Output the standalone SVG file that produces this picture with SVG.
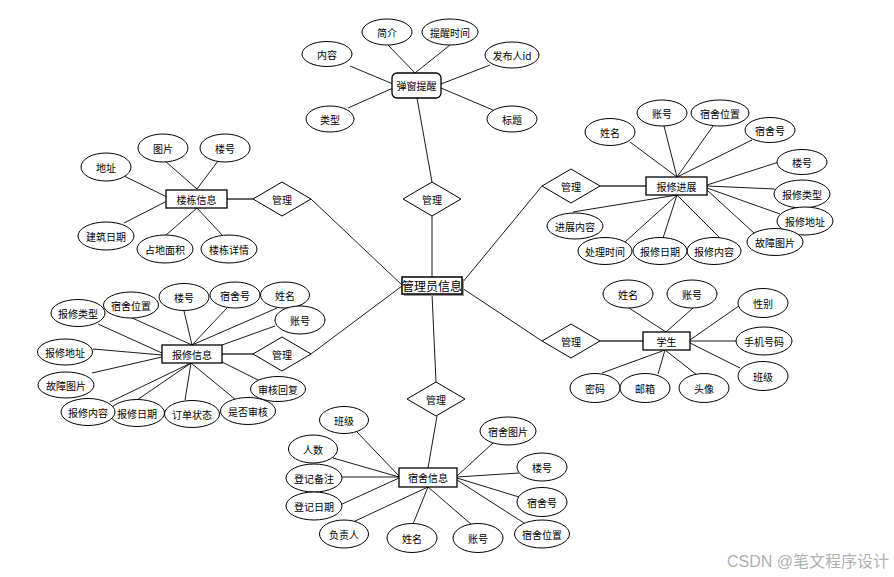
<svg xmlns="http://www.w3.org/2000/svg" width="894" height="577" viewBox="0 0 894 577">
<style>
.e{fill:#fff;stroke:#000;stroke-width:1}
.r{fill:#fff;stroke:#000;stroke-width:1.3}
.d{fill:#fff;stroke:#000;stroke-width:1}
.t{font-family:"Noto Sans CJK SC","Liberation Sans",sans-serif;font-size:10px;fill:#000;text-anchor:middle;dominant-baseline:central}
.c line{stroke:#000;stroke-width:0.9}
.c .g{stroke:#666;stroke-width:2}
</style>
<rect width="894" height="577" fill="#fff"/>
<g class="c" id="connectors">
<line x1="350" y1="66" x2="393" y2="84"/>
<line x1="388" y1="45" x2="415" y2="73"/>
<line x1="450" y1="45" x2="415" y2="73"/>
<line x1="490" y1="65" x2="441" y2="84"/>
<line x1="348" y1="108" x2="393" y2="88"/>
<line x1="493" y1="110" x2="441" y2="88"/>
<line x1="417" y1="98" x2="432" y2="182"/>
<line x1="432" y1="216" x2="432" y2="277"/>
<line x1="311" y1="199" x2="402" y2="285"/>
<line x1="311" y1="354" x2="402" y2="286"/>
<line x1="432" y1="294" x2="436" y2="382"/>
<line x1="462" y1="283" x2="542" y2="186"/>
<line x1="462" y1="288" x2="542" y2="341"/>
<line class="g" x1="227" y1="199" x2="253" y2="199"/>
<line x1="124" y1="176" x2="167" y2="197"/>
<line x1="165" y1="161" x2="197" y2="189"/>
<line x1="218" y1="161" x2="197" y2="189"/>
<line x1="124" y1="223" x2="167" y2="201"/>
<line x1="166" y1="235" x2="197" y2="208"/>
<line x1="223" y1="236" x2="197" y2="208"/>
<line class="g" x1="600" y1="186" x2="646" y2="186"/>
<line x1="630" y1="142" x2="677" y2="177"/>
<line x1="664" y1="126" x2="677" y2="177"/>
<line x1="713" y1="126" x2="677" y2="177"/>
<line x1="752" y1="140" x2="677" y2="177"/>
<line x1="779" y1="162" x2="707" y2="185"/>
<line x1="775" y1="189" x2="707" y2="186"/>
<line x1="780" y1="214" x2="707" y2="188"/>
<line x1="754" y1="233" x2="707" y2="190"/>
<line x1="573" y1="212" x2="677" y2="195"/>
<line x1="625" y1="242" x2="677" y2="195"/>
<line x1="663" y1="238" x2="677" y2="195"/>
<line x1="720" y1="238" x2="677" y2="195"/>
<line class="g" x1="600" y1="341" x2="643" y2="341"/>
<line x1="629" y1="308" x2="666" y2="332"/>
<line x1="693" y1="308" x2="666" y2="332"/>
<line x1="743" y1="303" x2="690" y2="340"/>
<line x1="690" y1="341" x2="736" y2="341"/>
<line x1="740" y1="368" x2="690" y2="343"/>
<line x1="602" y1="373" x2="665" y2="350"/>
<line x1="658" y1="374" x2="665" y2="350"/>
<line x1="697" y1="375" x2="665" y2="350"/>
<line class="g" x1="222" y1="354" x2="253" y2="354"/>
<line x1="98" y1="324" x2="162" y2="353"/>
<line x1="130" y1="317" x2="192" y2="345"/>
<line x1="184" y1="311" x2="192" y2="345"/>
<line x1="227" y1="308" x2="192" y2="345"/>
<line x1="277" y1="308" x2="192" y2="345"/>
<line x1="275" y1="326" x2="222" y2="345"/>
<line x1="93" y1="349" x2="162" y2="355"/>
<line x1="92" y1="373" x2="162" y2="357"/>
<line x1="110" y1="402" x2="191" y2="363"/>
<line x1="137" y1="400" x2="191" y2="363"/>
<line x1="185" y1="400" x2="191" y2="363"/>
<line x1="236" y1="400" x2="191" y2="363"/>
<line x1="260" y1="381" x2="222" y2="362"/>
<line x1="437" y1="416" x2="428" y2="468"/>
<line x1="357" y1="432" x2="399" y2="476"/>
<line x1="333" y1="458" x2="399" y2="477"/>
<line x1="342" y1="477" x2="399" y2="477"/>
<line x1="340" y1="505" x2="399" y2="478"/>
<line x1="353" y1="522" x2="428" y2="487"/>
<line x1="413" y1="524" x2="428" y2="487"/>
<line x1="472" y1="525" x2="428" y2="487"/>
<line x1="493" y1="443" x2="457" y2="476"/>
<line x1="519" y1="473" x2="457" y2="477"/>
<line x1="519" y1="497" x2="457" y2="478"/>
<line x1="524" y1="523" x2="457" y2="480"/>
</g>

<g id="tanchuang">
<rect class="r" x="392" y="73" width="49" height="25" rx="5"/>
<text class="t" x="416.5" y="85.5">弹窗提醒</text>
</g>
<g id="tc-neirong"><ellipse class="e" cx="327" cy="54" rx="25" ry="12.5"/><text class="t" x="327" y="54">内容</text></g>
<g id="tc-jianjie"><ellipse class="e" cx="387" cy="32" rx="25" ry="13"/><text class="t" x="387" y="32">简介</text></g>
<g id="tc-time"><ellipse class="e" cx="450" cy="32" rx="28" ry="13"/><text class="t" x="450" y="32">提醒时间</text></g>
<g id="tc-fbr"><ellipse class="e" cx="512" cy="55" rx="27" ry="13"/><text class="t" x="512" y="55">发布人id</text></g>
<g id="tc-leixing"><ellipse class="e" cx="330" cy="119" rx="24" ry="13"/><text class="t" x="330" y="119">类型</text></g>
<g id="tc-biaoti"><ellipse class="e" cx="512" cy="119" rx="25" ry="13"/><text class="t" x="512" y="119">标题</text></g>

<g id="admin">
<rect x="404" y="279" width="60" height="17" fill="#999"/>
<rect x="402" y="277" width="60" height="17" fill="#fff" stroke="#000" stroke-width="1.5"/>
<text class="t" x="432" y="285.5" style="font-size:12px">管理员信息</text>
</g>

<g id="rel-top"><polygon class="d" points="403,199 432,182 461,199 432,216"/><text class="t" x="432" y="199">管理</text></g>
<g id="rel-ul"><polygon class="d" points="253,199 282,182 311,199 282,216"/><text class="t" x="282" y="199">管理</text></g>
<g id="rel-ll"><polygon class="d" points="253,354 282,337 311,354 282,371"/><text class="t" x="282" y="354">管理</text></g>
<g id="rel-bot"><polygon class="d" points="407,399 436,382 465,399 436,416"/><text class="t" x="436" y="399">管理</text></g>
<g id="rel-ur"><polygon class="d" points="542,186 571,169 600,186 571,203"/><text class="t" x="571" y="186">管理</text></g>
<g id="rel-lr"><polygon class="d" points="542,341 571,324 600,341 571,358"/><text class="t" x="571" y="341">管理</text></g>

<g id="loudong"><rect class="r" x="166" y="190" width="61" height="18"/><text class="t" x="196.5" y="199">楼栋信息</text></g>
<g id="ld-dizhi"><ellipse class="e" cx="106" cy="167" rx="25" ry="14"/><text class="t" x="106" y="167">地址</text></g>
<g id="ld-tupian"><ellipse class="e" cx="163" cy="148" rx="25" ry="14"/><text class="t" x="163" y="148">图片</text></g>
<g id="ld-louhao"><ellipse class="e" cx="225" cy="148" rx="25" ry="14"/><text class="t" x="225" y="148">楼号</text></g>
<g id="ld-jzrq"><ellipse class="e" cx="106" cy="236" rx="28" ry="14"/><text class="t" x="106" y="236">建筑日期</text></g>
<g id="ld-zdmj"><ellipse class="e" cx="165" cy="249" rx="28" ry="14"/><text class="t" x="165" y="249">占地面积</text></g>
<g id="ld-ldxq"><ellipse class="e" cx="229" cy="249" rx="28" ry="14"/><text class="t" x="229" y="249">楼栋详情</text></g>

<g id="jinzhan"><rect class="r" x="646" y="177" width="61" height="18"/><text class="t" x="676.5" y="186">报修进展</text></g>
<g id="jz-xingming"><ellipse class="e" cx="610" cy="132" rx="25" ry="13.5"/><text class="t" x="610" y="132">姓名</text></g>
<g id="jz-zhanghao"><ellipse class="e" cx="662" cy="113" rx="25" ry="13"/><text class="t" x="662" y="113">账号</text></g>
<g id="jz-sswz"><ellipse class="e" cx="720" cy="113" rx="29" ry="13"/><text class="t" x="720" y="113">宿舍位置</text></g>
<g id="jz-ssh"><ellipse class="e" cx="770" cy="130" rx="25" ry="12.5"/><text class="t" x="770" y="130">宿舍号</text></g>
<g id="jz-louhao"><ellipse class="e" cx="802" cy="162" rx="25" ry="12.5"/><text class="t" x="802" y="162">楼号</text></g>
<g id="jz-bxlx"><ellipse class="e" cx="802" cy="194" rx="28" ry="14"/><text class="t" x="802" y="194">报修类型</text></g>
<g id="jz-bxdz"><ellipse class="e" cx="805" cy="221" rx="28" ry="14"/><text class="t" x="805" y="221">报修地址</text></g>
<g id="jz-gztp"><ellipse class="e" cx="775" cy="242" rx="28" ry="13.5"/><text class="t" x="775" y="242">故障图片</text></g>
<g id="jz-bxnr"><ellipse class="e" cx="714" cy="251" rx="27" ry="13.5"/><text class="t" x="714" y="251">报修内容</text></g>
<g id="jz-bxrq"><ellipse class="e" cx="660" cy="251" rx="27" ry="13.5"/><text class="t" x="660" y="251">报修日期</text></g>
<g id="jz-clsj"><ellipse class="e" cx="605" cy="251" rx="27" ry="13.5"/><text class="t" x="605" y="251">处理时间</text></g>
<g id="jz-jznr"><ellipse class="e" cx="575" cy="226" rx="28" ry="13"/><text class="t" x="575" y="226">进展内容</text></g>

<g id="xuesheng"><rect class="r" x="643" y="332" width="47" height="18"/><text class="t" x="666.5" y="341">学生</text></g>
<g id="xs-xingming"><ellipse class="e" cx="628" cy="294" rx="25" ry="14"/><text class="t" x="628" y="294">姓名</text></g>
<g id="xs-zhanghao"><ellipse class="e" cx="692" cy="294" rx="25" ry="14"/><text class="t" x="692" y="294">账号</text></g>
<g id="xs-xingbie"><ellipse class="e" cx="763" cy="303" rx="25" ry="14.5"/><text class="t" x="763" y="303">性别</text></g>
<g id="xs-sjhm"><ellipse class="e" cx="764" cy="341" rx="28" ry="14"/><text class="t" x="764" y="341">手机号码</text></g>
<g id="xs-banji"><ellipse class="e" cx="763" cy="376" rx="25" ry="14.5"/><text class="t" x="763" y="376">班级</text></g>
<g id="xs-mima"><ellipse class="e" cx="595" cy="388" rx="25" ry="14.5"/><text class="t" x="595" y="388">密码</text></g>
<g id="xs-youxiang"><ellipse class="e" cx="645" cy="388" rx="25" ry="14.5"/><text class="t" x="645" y="388">邮箱</text></g>
<g id="xs-touxiang"><ellipse class="e" cx="704" cy="388" rx="25" ry="14.5"/><text class="t" x="704" y="388">头像</text></g>

<g id="baoxiu"><rect class="r" x="162" y="345" width="60" height="18"/><text class="t" x="192" y="354">报修信息</text></g>
<g id="bx-sswz"><ellipse class="e" cx="131" cy="305" rx="27.5" ry="13"/><text class="t" x="131" y="305">宿舍位置</text></g>
<g id="bx-bxlx"><ellipse class="e" cx="78" cy="313" rx="27" ry="13.5"/><text class="t" x="78" y="313">报修类型</text></g>
<g id="bx-louhao"><ellipse class="e" cx="184" cy="297" rx="25" ry="13.5"/><text class="t" x="184" y="297">楼号</text></g>
<g id="bx-ssh"><ellipse class="e" cx="235" cy="295" rx="25" ry="13"/><text class="t" x="235" y="295">宿舍号</text></g>
<g id="bx-xingming"><ellipse class="e" cx="285" cy="295" rx="24.5" ry="13"/><text class="t" x="285" y="295">姓名</text></g>
<g id="bx-zhanghao"><ellipse class="e" cx="300" cy="320" rx="25" ry="14"/><text class="t" x="300" y="320">账号</text></g>
<g id="bx-bxdz"><ellipse class="e" cx="65" cy="352" rx="27.5" ry="13"/><text class="t" x="65" y="352">报修地址</text></g>
<g id="bx-gztp"><ellipse class="e" cx="66" cy="385" rx="28" ry="13"/><text class="t" x="66" y="385">故障图片</text></g>
<g id="bx-shhf"><ellipse class="e" cx="278" cy="389" rx="27.5" ry="12.5"/><text class="t" x="278" y="389">审核回复</text></g>
<g id="bx-sfsh"><ellipse class="e" cx="248" cy="411" rx="27.5" ry="13.5"/><text class="t" x="248" y="411">是否审核</text></g>
<g id="bx-ddzt"><ellipse class="e" cx="192" cy="414" rx="27.5" ry="13.5"/><text class="t" x="192" y="414">订单状态</text></g>
<g id="bx-bxrq"><ellipse class="e" cx="137" cy="413" rx="27.5" ry="13.5"/><text class="t" x="137" y="413">报修日期</text></g>
<g id="bx-bxnr"><ellipse class="e" cx="88" cy="412" rx="27" ry="13.5"/><text class="t" x="88" y="412">报修内容</text></g>

<g id="sushe"><rect class="r" x="399" y="468" width="58" height="19"/><text class="t" x="428" y="477.5">宿舍信息</text></g>
<g id="ss-banji"><ellipse class="e" cx="344" cy="420" rx="24.5" ry="13.5"/><text class="t" x="344" y="420">班级</text></g>
<g id="ss-renshu"><ellipse class="e" cx="313" cy="449" rx="24.5" ry="14"/><text class="t" x="313" y="449">人数</text></g>
<g id="ss-djbz"><ellipse class="e" cx="314" cy="478" rx="28" ry="14"/><text class="t" x="314" y="478">登记备注</text></g>
<g id="ss-djrq"><ellipse class="e" cx="314" cy="506" rx="28" ry="14"/><text class="t" x="314" y="506">登记日期</text></g>
<g id="ss-fzr"><ellipse class="e" cx="344" cy="534" rx="24.5" ry="14"/><text class="t" x="344" y="534">负责人</text></g>
<g id="ss-xingming"><ellipse class="e" cx="412" cy="538" rx="25" ry="14.5"/><text class="t" x="412" y="538">姓名</text></g>
<g id="ss-zhanghao"><ellipse class="e" cx="478" cy="538" rx="25" ry="14.5"/><text class="t" x="478" y="538">账号</text></g>
<g id="ss-sstp"><ellipse class="e" cx="508" cy="431" rx="28" ry="14"/><text class="t" x="508" y="431">宿舍图片</text></g>
<g id="ss-louhao"><ellipse class="e" cx="542" cy="467" rx="25" ry="14"/><text class="t" x="542" y="467">楼号</text></g>
<g id="ss-ssh"><ellipse class="e" cx="542" cy="502" rx="25" ry="14.5"/><text class="t" x="542" y="502">宿舍号</text></g>
<g id="ss-sswz"><ellipse class="e" cx="542" cy="534" rx="27.5" ry="14"/><text class="t" x="542" y="534">宿舍位置</text></g>

<text x="727" y="567" textLength="162" lengthAdjust="spacingAndGlyphs" style="font-family:'Liberation Sans','Noto Sans CJK SC',sans-serif;font-size:16px;fill:#b0b0b0">CSDN @笔文程序设计</text>
</svg>
